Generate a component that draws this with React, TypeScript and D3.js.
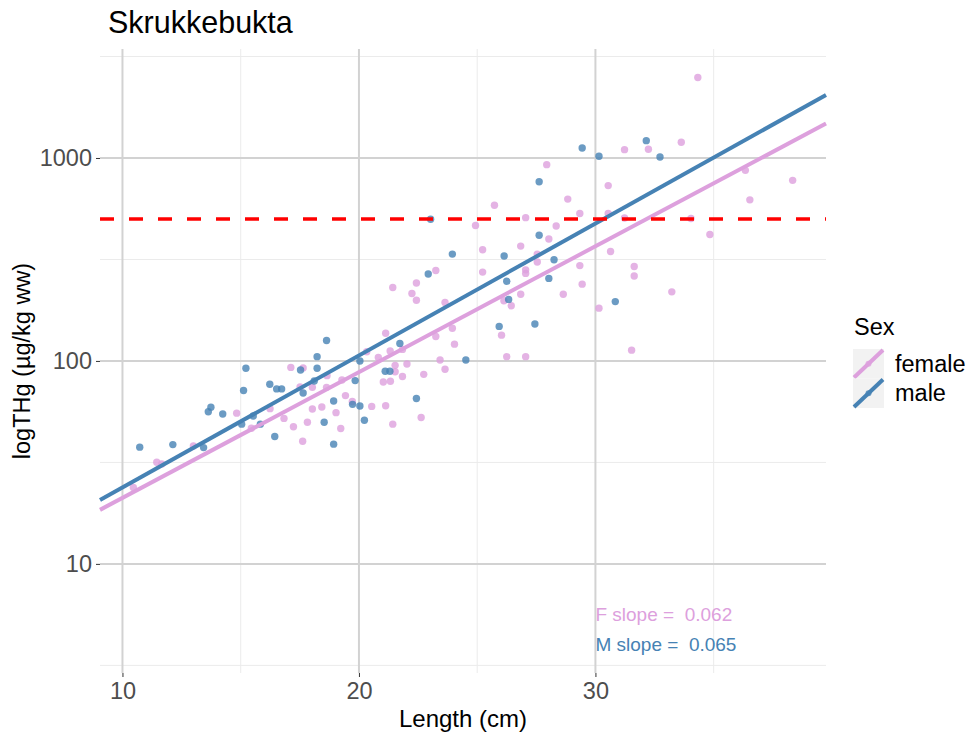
import { useEffect, useRef } from 'react'
import * as d3 from 'd3'

// [length (cm), THg (µg/kg ww)]
const femalePoints: [number, number][] = [
  [34.33, 2490], [31.23, 1099], [32.24, 1104], [33.63, 1195], [27.94, 927], [36.34, 869],
  [38.34, 776], [30.54, 731], [25.73, 585], [28.83, 627], [36.53, 622], [27.05, 508],
  [29.34, 533], [30.54, 533], [31.23, 506], [34.04, 503], [24.93, 465], [28.34, 462],
  [28.03, 399], [34.84, 420], [26.84, 368], [25.23, 353], [30.64, 346], [27.54, 336],
  [27.54, 307], [25.23, 274], [27.05, 281], [27.05, 270], [29.34, 295], [31.64, 292],
  [31.64, 262], [29.44, 239], [28.64, 213], [26.84, 213], [26.13, 198], [26.44, 187],
  [33.23, 219], [30.15, 182], [23.95, 145], [24.04, 121], [26.03, 134], [26.25, 105],
  [27.05, 105], [31.53, 113], [23.25, 279], [21.43, 230], [22.43, 242], [22.24, 215],
  [22.43, 199], [23.64, 194], [21.13, 137], [23.25, 132], [21.32, 112], [21.84, 114],
  [20.33, 111], [20.82, 104], [21.53, 95.1], [22.03, 96.6], [21.53, 88.5], [21.03, 78.7],
  [21.33, 79.4], [21.84, 83.8], [22.74, 85.9], [23.43, 101], [23.64, 91.0], [20.54, 59.7],
  [21.13, 60.1], [21.43, 48.8], [22.63, 52.6], [19.72, 63.1], [19.28, 80.5], [19.43, 67.5],
  [19.03, 55.6], [19.23, 46.5], [18.65, 84.6], [18.63, 74.1], [18.43, 59.3], [18.03, 58.0],
  [18.03, 74.1], [17.51, 74.4], [17.64, 92.4], [17.12, 92.9], [17.82, 49.9], [17.23, 47.4],
  [17.62, 40.2], [16.83, 52.1], [16.24, 58.2], [15.45, 46.6], [14.83, 55.3], [13.0, 38.1],
  [11.45, 31.7], [11.66, 31.1], [10.46, 23.8],
]

const malePoints: [number, number][] = [
  [29.44, 1120], [30.15, 1019], [32.15, 1217], [32.73, 1011], [27.62, 764], [27.62, 416],
  [26.14, 329], [28.25, 315], [23.95, 336], [28.03, 255], [26.25, 247], [26.33, 201],
  [30.84, 196], [25.93, 148], [27.44, 152], [24.52, 101], [23.03, 499], [22.93, 268],
  [21.73, 122], [22.43, 65.3], [21.11, 88.9], [21.31, 88.9], [20.23, 51.0], [20.04, 100],
  [19.84, 80.0], [20.04, 60.0], [19.73, 61.1], [18.93, 38.9], [18.93, 63.5], [18.53, 49.9],
  [18.63, 126], [18.23, 105], [18.23, 92.0], [18.11, 79.6], [17.64, 69.5], [17.53, 90.2],
  [16.44, 42.4], [16.73, 72.8], [16.52, 72.8], [16.23, 76.7], [15.83, 48.8], [15.53, 53.5],
  [15.04, 48.8], [15.22, 92.0], [15.12, 71.5], [14.24, 54.8], [13.74, 59.2], [13.63, 56.2],
  [13.43, 37.4], [12.13, 38.7], [10.73, 37.6],
]

const sexes = ['female', 'male']
const sexColors = ['#DDA0DD', '#4682B4']
// log10(THg) = intercept + slope * length
const fitIntercepts = [0.705, 0.727]
const fitSlopes = [0.062, 0.065]
const slopeLabels = ['F slope =  0.062', 'M slope =  0.065']
const slopeLabelX = 30
const slopeLabelY = [5.6, 4.0]

const xTicks = [10, 20, 30]
const xMinorTicks = [15, 25, 35]
const yTicks = [10, 100, 1000]
const yMinorTicks = [3.162, 31.62, 316.2, 3162]
const threshold = 500

const FONT = '"Liberation Sans", Arial, Helvetica, sans-serif'

export default function App() {
  const svgRef = useRef<SVGSVGElement>(null)

  useEffect(() => {
    if (!svgRef.current) return
    const svg = d3.select(svgRef.current)
    svg.selectAll('*').remove()

    const width = 969
    const height = 735
    const margin = { top: 49, right: 143, bottom: 62, left: 100 }
    const innerWidth = width - margin.left - margin.right
    const innerHeight = height - margin.top - margin.bottom

    svg.attr('width', width).attr('height', height)

    const g = svg.append('g').attr('transform', `translate(${margin.left},${margin.top})`)

    const xScale = d3.scaleLinear().domain([9.05, 39.75]).range([0, innerWidth])
    const yScale = d3.scaleLog().domain([2.9, 3443]).range([innerHeight, 0])

    // minor grid
    g.selectAll('.xminor')
      .data(xMinorTicks)
      .join('line')
      .attr('x1', (d) => xScale(d))
      .attr('x2', (d) => xScale(d))
      .attr('y1', 0)
      .attr('y2', innerHeight)
      .attr('stroke', '#ebebeb')
      .attr('stroke-width', 1)

    g.selectAll('.yminor')
      .data(yMinorTicks)
      .join('line')
      .attr('x1', 0)
      .attr('x2', innerWidth)
      .attr('y1', (d) => yScale(d))
      .attr('y2', (d) => yScale(d))
      .attr('stroke', '#ebebeb')
      .attr('stroke-width', 1)

    // major grid
    g.selectAll('.xmajor')
      .data(xTicks)
      .join('line')
      .attr('x1', (d) => xScale(d))
      .attr('x2', (d) => xScale(d))
      .attr('y1', 0)
      .attr('y2', innerHeight)
      .attr('stroke', '#d2d2d2')
      .attr('stroke-width', 2)

    g.selectAll('.ymajor')
      .data(yTicks)
      .join('line')
      .attr('x1', 0)
      .attr('x2', innerWidth)
      .attr('y1', (d) => yScale(d))
      .attr('y2', (d) => yScale(d))
      .attr('stroke', '#d2d2d2')
      .attr('stroke-width', 2)

    // axes
    const xAxis = d3.axisBottom(xScale).tickValues(xTicks).tickSize(4).tickPadding(5)
    const xg = g.append('g').attr('transform', `translate(0,${innerHeight})`).call(xAxis)
    xg.select('.domain').remove()
    xg.selectAll('line').attr('stroke', '#333333')
    xg.selectAll('text')
      .attr('fill', '#4d4d4d')
      .attr('font-size', 23.5)
      .attr('font-family', FONT)

    const yAxis = d3
      .axisLeft(yScale)
      .tickValues(yTicks)
      .tickFormat((d) => String(d))
      .tickSize(4)
      .tickPadding(4)
    const yg = g.append('g').call(yAxis)
    yg.select('.domain').remove()
    yg.selectAll('line').attr('stroke', '#333333')
    yg.selectAll('text')
      .attr('fill', '#4d4d4d')
      .attr('font-size', 23.5)
      .attr('font-family', FONT)

    // points
    const groups = [femalePoints, malePoints]
    groups.forEach((pts, i) => {
      g.append('g')
        .selectAll('circle')
        .data(pts)
        .join('circle')
        .attr('cx', (d) => xScale(d[0]))
        .attr('cy', (d) => yScale(d[1]))
        .attr('r', 3.7)
        .attr('fill', sexColors[i])
        .attr('fill-opacity', 0.8)
    })

    // fitted lines
    const [x0, x1] = xScale.domain()
    sexes.forEach((_, i) => {
      const fit = (x: number) => Math.pow(10, fitIntercepts[i] + fitSlopes[i] * x)
      g.append('line')
        .attr('x1', xScale(x0))
        .attr('y1', yScale(fit(x0)))
        .attr('x2', xScale(x1))
        .attr('y2', yScale(fit(x1)))
        .attr('stroke', sexColors[i])
        .attr('stroke-width', 4)
    })

    // threshold
    g.append('line')
      .attr('x1', 0)
      .attr('x2', innerWidth)
      .attr('y1', yScale(threshold))
      .attr('y2', yScale(threshold))
      .attr('stroke', '#ff0000')
      .attr('stroke-width', 3.5)
      .attr('stroke-dasharray', '14,15')

    // slope annotations
    slopeLabels.forEach((label, i) => {
      g.append('text')
        .attr('x', xScale(slopeLabelX))
        .attr('y', yScale(slopeLabelY[i]))
        .attr('dominant-baseline', 'central')
        .attr('fill', sexColors[i])
        .attr('font-size', 19)
        .attr('font-family', FONT)
        .style('white-space', 'pre')
        .text(label)
    })

    // title and axis titles
    svg.append('text')
      .attr('x', 108)
      .attr('y', 33)
      .attr('font-size', 30.5)
      .attr('font-family', FONT)
      .attr('fill', '#000')
      .text('Skrukkebukta')

    svg.append('text')
      .attr('x', margin.left + innerWidth / 2)
      .attr('y', 727)
      .attr('text-anchor', 'middle')
      .attr('font-size', 24)
      .attr('font-family', FONT)
      .attr('fill', '#000')
      .text('Length (cm)')

    svg.append('text')
      .attr('transform', `translate(30,${margin.top + innerHeight / 2}) rotate(-90)`)
      .attr('text-anchor', 'middle')
      .attr('font-size', 23.5)
      .attr('font-family', FONT)
      .attr('fill', '#000')
      .text('logTHg (µg/kg ww)')

    // legend
    const legend = svg.append('g').attr('transform', 'translate(853,320)')
    legend.append('text')
      .attr('x', 1)
      .attr('y', 15)
      .attr('font-size', 23.5)
      .attr('font-family', FONT)
      .attr('fill', '#000')
      .text('Sex')
    const keySize = 29.5
    sexes.forEach((sex, i) => {
      const ky = 29 + i * keySize
      const key = legend.append('g').attr('transform', `translate(0,${ky})`)
      key.append('rect')
        .attr('width', 31)
        .attr('height', keySize)
        .attr('fill', '#f2f2f2')
      key.append('line')
        .attr('x1', 1)
        .attr('y1', keySize - 1)
        .attr('x2', 30)
        .attr('y2', 1)
        .attr('stroke', sexColors[i])
        .attr('stroke-width', 4)
      key.append('circle')
        .attr('cx', 15.5)
        .attr('cy', keySize / 2)
        .attr('r', 3)
        .attr('fill', sexColors[i])
        .attr('fill-opacity', 0.8)
      legend.append('text')
        .attr('x', 42)
        .attr('y', ky + keySize / 2)
        .attr('dominant-baseline', 'central')
        .attr('font-size', 23.5)
        .attr('font-family', FONT)
        .attr('fill', '#000')
        .text(sex)
    })
  }, [])

  return (
    <svg
      ref={svgRef}
      style={{ position: 'absolute', left: 0, top: 0, background: '#fff' }}
    />
  )
}
